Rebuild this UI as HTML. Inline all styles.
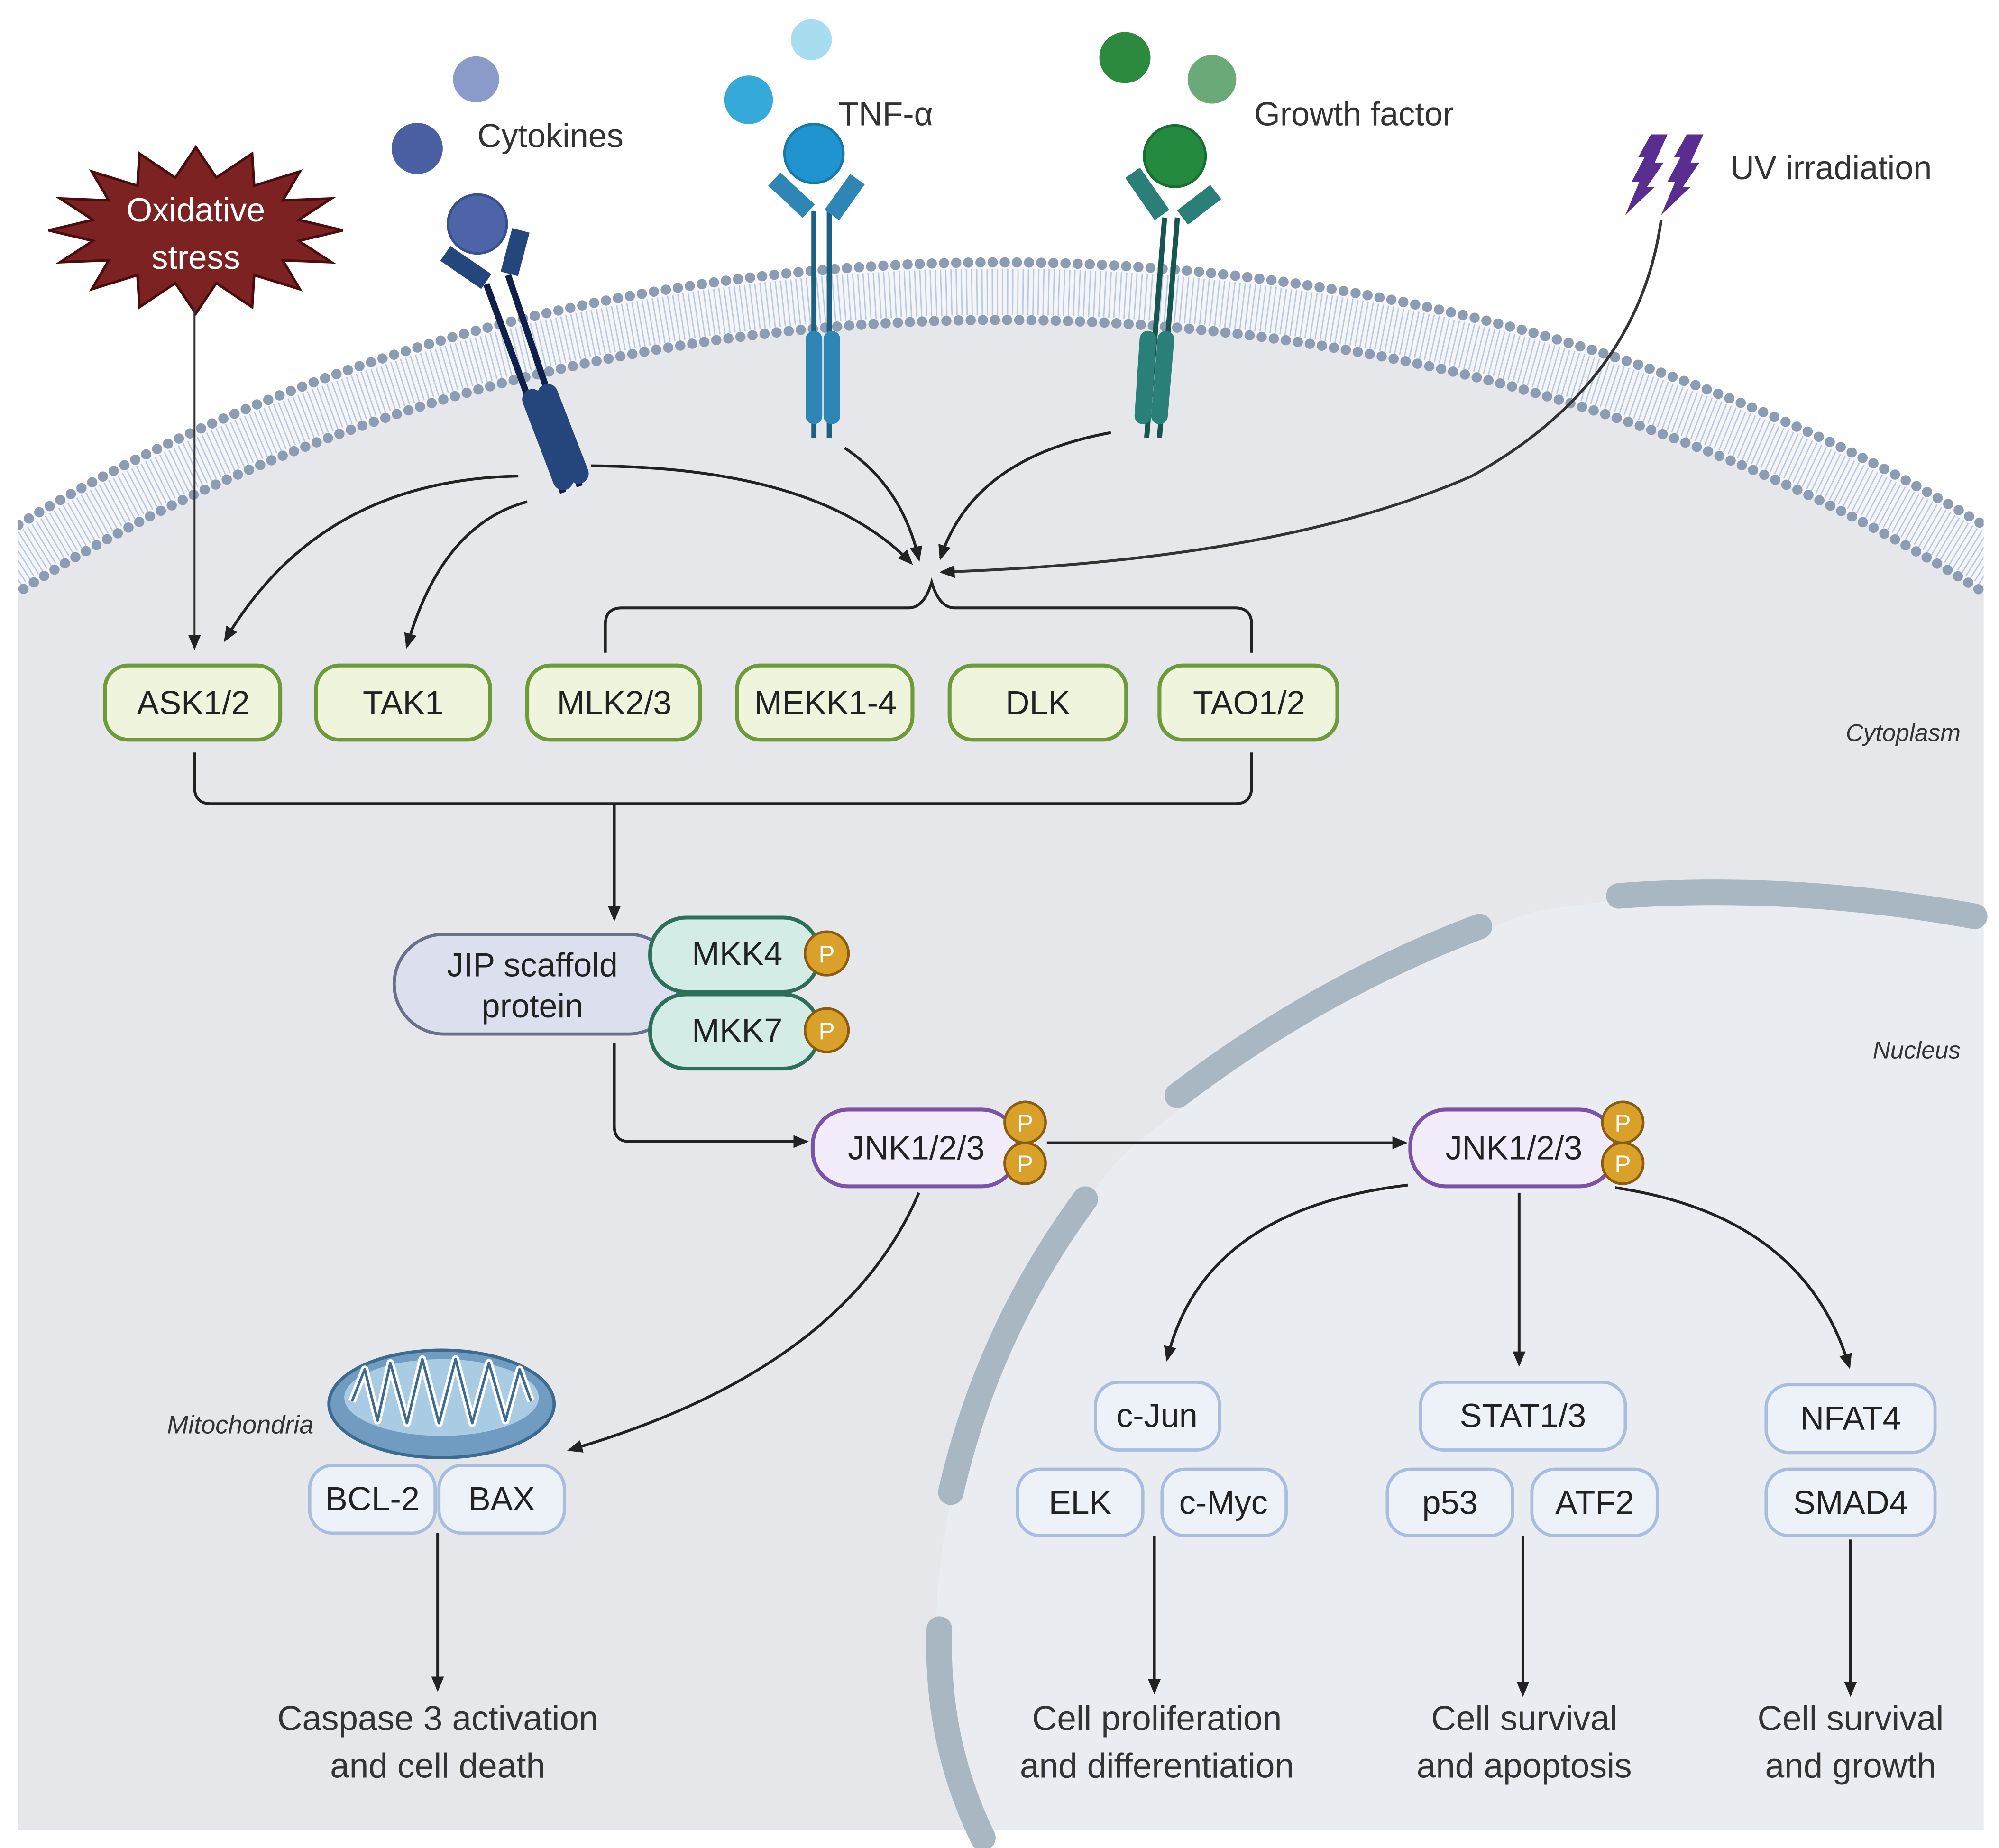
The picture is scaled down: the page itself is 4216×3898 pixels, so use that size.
<!DOCTYPE html>
<html><head><meta charset="utf-8"><style>
html,body{margin:0;padding:0;background:#fff;width:4216px;height:3898px;overflow:hidden}
svg{display:block}
text{font-family:"Liberation Sans",sans-serif}
</style></head><body>
<svg width="4216" height="3898" viewBox="0 0 1562 1444" preserveAspectRatio="none" xmlns="http://www.w3.org/2000/svg">
<defs>
<marker id="a2" viewBox="0 0 12 12" refX="10" refY="6" markerWidth="12" markerHeight="12" orient="auto" markerUnits="userSpaceOnUse"><path d="M0,1 L12,6 L0,11 z" fill="#222"/></marker>
<clipPath id="cell"><rect x="14" y="0" width="1536" height="1430"/></clipPath>
</defs>
<rect width="1562" height="1444" fill="#fff"/>
<g clip-path="url(#cell)">
<ellipse cx="782" cy="1100" rx="1205" ry="895" fill="#f3f5f9"/>
<ellipse cx="782" cy="1100" rx="1160" ry="850" fill="#e5e7ea"/>
<rect x="14" y="1100" width="1536" height="330" fill="#e5e7ea"/>
<ellipse cx="782" cy="1100" rx="1182" ry="872" fill="none" stroke="#b9c8dc" stroke-width="36" stroke-dasharray="1 3"/>
<ellipse cx="782" cy="1100" rx="1205" ry="895" fill="none" stroke="#8c9cb2" stroke-width="8" stroke-linecap="round" stroke-dasharray="0 9.5"/>
<ellipse cx="782" cy="1100" rx="1160" ry="850" fill="none" stroke="#8c9cb2" stroke-width="8" stroke-linecap="round" stroke-dasharray="0 9.5"/>
<path d="M768 1430 Q720 1330 735 1220 Q760 1030 880 900 Q1050 760 1200 712 Q1400 680 1550 715 L1550 1430 Z" fill="#e9ecf0"/>
</g>
<g fill="none" stroke="#a8b7c2" stroke-width="20" stroke-linecap="round">
<path d="M1265 700 Q1400 690 1543 716"/>
<path d="M920 856 Q1030 772 1156 724"/>
<path d="M848 937 Q772 1040 743 1166"/>
<path d="M734 1273 Q731 1360 768 1436"/>
</g>
<polygon points="268,180 233.4,188.2 259,204.9 221,203.4 234.3,226 198.6,214.9 197,240 169,221.2 153,245 137,221.2 109,240 107.4,214.9 71.7,226 85,203.4 47,204.9 72.6,188.2 38,180 72.6,171.8 47,155.1 85,156.6 71.7,134 107.4,145.1 109,120 137,138.8 153,115 169,138.8 197,120 198.6,145.1 234.3,134 221,156.6 259,155.1 233.4,171.8" fill="#7d2222" stroke="#4a0d0d" stroke-width="2"/>
<text x="153" y="173" font-size="26" fill="#fff" text-anchor="middle">Oxidative</text>
<text x="153" y="210" font-size="26" fill="#fff" text-anchor="middle">stress</text>
<line x1="152" y1="240" x2="152" y2="506" stroke="#333" stroke-width="1.5" marker-end="url(#a2)"/>
<circle cx="372" cy="62" r="18" fill="#8b9bc9"/><circle cx="326" cy="116" r="20" fill="#4b60a2"/>
<text x="373" y="115" font-size="26" fill="#333">Cytokines</text>
<g stroke-linecap="butt">
<line x1="380" y1="222" x2="440" y2="385" stroke="#10204a" stroke-width="5"/>
<line x1="397" y1="215" x2="453" y2="380" stroke="#10204a" stroke-width="5"/>
<line x1="416" y1="312" x2="440" y2="375" stroke="#25467c" stroke-width="16" stroke-linecap="round"/>
<line x1="428" y1="308" x2="452" y2="370" stroke="#25467c" stroke-width="16" stroke-linecap="round"/>
<line x1="348" y1="198" x2="380" y2="220" stroke="#25467c" stroke-width="14"/>
<line x1="407" y1="180" x2="398" y2="214" stroke="#25467c" stroke-width="14"/>
</g>
<circle cx="373" cy="175" r="23" fill="#4d64a8" stroke="#3a4f8d" stroke-width="2"/>
<circle cx="634" cy="31" r="16" fill="#a8dcef"/><circle cx="585" cy="78" r="19" fill="#35a9d9"/>
<text x="655" y="98" font-size="26" fill="#333">TNF-α</text>
<line x1="636" y1="165" x2="636" y2="342" stroke="#1c5f82" stroke-width="4"/>
<line x1="648" y1="165" x2="648" y2="342" stroke="#1c5f82" stroke-width="4"/>
<line x1="636" y1="265" x2="636" y2="325" stroke="#2d86b3" stroke-width="13" stroke-linecap="round"/>
<line x1="650" y1="265" x2="650" y2="325" stroke="#2d86b3" stroke-width="13" stroke-linecap="round"/>
<line x1="605" y1="140" x2="632" y2="165" stroke="#2d86b3" stroke-width="14"/>
<line x1="670" y1="140" x2="650" y2="168" stroke="#2d86b3" stroke-width="14"/>
<circle cx="636" cy="120" r="23" fill="#1f94cf" stroke="#1a78a8" stroke-width="2"/>
<circle cx="879" cy="45" r="20" fill="#2b8a3e"/><circle cx="947" cy="62" r="19" fill="#6aaa78"/>
<text x="980" y="98" font-size="26" fill="#333">Growth factor</text>
<line x1="910" y1="170" x2="896" y2="342" stroke="#17564f" stroke-width="4"/>
<line x1="920" y1="170" x2="906" y2="342" stroke="#17564f" stroke-width="4"/>
<line x1="897" y1="265" x2="893" y2="325" stroke="#2a8078" stroke-width="13" stroke-linecap="round"/>
<line x1="911" y1="265" x2="906" y2="325" stroke="#2a8078" stroke-width="13" stroke-linecap="round"/>
<line x1="885" y1="135" x2="908" y2="168" stroke="#2a8078" stroke-width="14"/>
<line x1="950" y1="150" x2="924" y2="170" stroke="#2a8078" stroke-width="14"/>
<circle cx="918" cy="122" r="24" fill="#238a40" stroke="#1a6c32" stroke-width="2"/>
<polygon points="1290,105 1303,105 1293,127 1300,127 1287,146 1293,146 1270,168 1281,142 1275,142 1285,123 1280,123" fill="#5a2d91"/>
<polygon points="1318,105 1331,105 1321,127 1328,127 1315,146 1321,146 1298,168 1309,142 1303,142 1313,123 1308,123" fill="#5a2d91"/>
<text x="1352" y="140" font-size="26" fill="#333">UV irradiation</text>
<g fill="none" stroke="#222" stroke-width="2.2">
<path d="M405 372 Q250 375 176 500" marker-end="url(#a2)"/>
<path d="M412 392 Q345 410 318 505" marker-end="url(#a2)"/>
<path d="M462 364 Q640 365 712 440" marker-end="url(#a2)"/>
<path d="M660 350 Q705 380 718 437" marker-end="url(#a2)"/>
<path d="M868 338 Q760 358 735 436" marker-end="url(#a2)"/>
<path d="M1298 172 Q1280 300 1150 372 Q1000 438 736 447" marker-end="url(#a2)" stroke="#333"/>
<path d="M473 510 L473 488 Q473 475 486 475 L710 475 Q722 475 728 455 Q734 475 746 475 L965 475 Q978 475 978 488 L978 510"/>
<path d="M152 588 L152 615 Q152 628 165 628 L965 628 Q978 628 978 615 L978 588"/>
<path d="M480 628 L480 718" marker-end="url(#a2)"/>
<path d="M480 815 L480 880 Q480 892 492 892 L630 892" marker-end="url(#a2)"/>
<path d="M818 893 L1098 893" marker-end="url(#a2)"/>
<path d="M718 932 Q660 1070 445 1133" marker-end="url(#a2)"/>
<path d="M1100 926 Q940 945 912 1062" marker-end="url(#a2)"/>
<path d="M1187 932 L1187 1066" marker-end="url(#a2)"/>
<path d="M1262 928 Q1410 950 1445 1068" marker-end="url(#a2)"/>
<path d="M342 1198 L342 1320" marker-end="url(#a2)"/>
<path d="M902 1200 L902 1322" marker-end="url(#a2)"/>
<path d="M1190 1200 L1190 1324" marker-end="url(#a2)"/>
<path d="M1446 1203 L1446 1324" marker-end="url(#a2)"/>
</g>
<g fill="#eef5dc" stroke="#6e9a3a" stroke-width="3">
<rect x="82" y="520" width="137" height="58" rx="18"/>
<rect x="247" y="520" width="136" height="58" rx="18"/>
<rect x="412" y="520" width="135" height="58" rx="18"/>
<rect x="576" y="520" width="137" height="58" rx="18"/>
<rect x="742" y="520" width="138" height="58" rx="18"/>
<rect x="906" y="520" width="139" height="58" rx="18"/>
</g>
<g font-size="26" fill="#222" text-anchor="middle">
<text x="151" y="558">ASK1/2</text><text x="315" y="558">TAK1</text><text x="480" y="558">MLK2/3</text>
<text x="645" y="558">MEKK1-4</text><text x="811" y="558">DLK</text><text x="976" y="558">TAO1/2</text>
</g>
<text x="1532" y="579" font-size="19" font-style="italic" fill="#333" text-anchor="end">Cytoplasm</text>
<text x="1532" y="827" font-size="19" font-style="italic" fill="#333" text-anchor="end">Nucleus</text>
<rect x="308" y="730" width="222" height="78" rx="39" fill="#dcdfee" stroke="#6a6f8a" stroke-width="2.5"/>
<text x="416" y="763" font-size="26" fill="#222" text-anchor="middle">JIP scaffold</text>
<text x="416" y="795" font-size="26" fill="#222" text-anchor="middle">protein</text>
<rect x="508" y="717" width="132" height="58" rx="28" fill="#d3ede6" stroke="#2e6f5a" stroke-width="3"/>
<rect x="508" y="777" width="132" height="58" rx="28" fill="#d3ede6" stroke="#2e6f5a" stroke-width="3"/>
<text x="576" y="754" font-size="26" fill="#222" text-anchor="middle">MKK4</text>
<text x="576" y="814" font-size="26" fill="#222" text-anchor="middle">MKK7</text>
<rect x="635" y="867" width="160" height="60" rx="28" fill="#f1ebfa" stroke="#7a52a8" stroke-width="3"/>
<rect x="1102" y="867" width="160" height="60" rx="28" fill="#f1ebfa" stroke="#7a52a8" stroke-width="3"/>
<text x="716" y="906" font-size="26" fill="#222" text-anchor="middle">JNK1/2/3</text>
<text x="1183" y="906" font-size="26" fill="#222" text-anchor="middle">JNK1/2/3</text>
<g fill="#d9a02a" stroke="#8a5c10" stroke-width="2">
<circle cx="646" cy="745" r="17"/><circle cx="646" cy="805" r="17"/>
<circle cx="801" cy="877" r="16"/><circle cx="801" cy="909" r="16"/>
<circle cx="1268" cy="877" r="16"/><circle cx="1268" cy="909" r="16"/>
</g>
<g font-size="19" fill="#fff" text-anchor="middle">
<text x="646" y="752">P</text><text x="646" y="812">P</text>
<text x="801" y="884">P</text><text x="801" y="916">P</text>
<text x="1268" y="884">P</text><text x="1268" y="916">P</text>
</g>
<ellipse cx="345" cy="1097" rx="88" ry="42" fill="#6f9cc0" stroke="#3d6a8f" stroke-width="2.5"/>
<ellipse cx="345" cy="1092" rx="76" ry="30" fill="#a9cbe3"/>
<path d="M275 1095 L285 1070 L295 1110 L305 1065 L318 1112 L330 1062 L343 1112 L356 1062 L369 1112 L382 1065 L395 1110 L406 1070 L415 1095" fill="none" stroke="#fff" stroke-width="6" stroke-linejoin="round"/>
<path d="M275 1095 L285 1070 L295 1110 L305 1065 L318 1112 L330 1062 L343 1112 L356 1062 L369 1112 L382 1065 L395 1110 L406 1070 L415 1095" fill="none" stroke="#3d6a8f" stroke-width="2" stroke-linejoin="round"/>
<text x="245" y="1120" font-size="20" font-style="italic" fill="#333" text-anchor="end">Mitochondria</text>
<g fill="#edf1f8" stroke="#a9bde0" stroke-width="2.5">
<rect x="242" y="1145" width="98" height="53" rx="18"/><rect x="343" y="1145" width="98" height="53" rx="18"/>
<rect x="856" y="1080" width="97" height="53" rx="18"/>
<rect x="795" y="1148" width="98" height="52" rx="18"/><rect x="908" y="1148" width="97" height="52" rx="18"/>
<rect x="1110" y="1080" width="160" height="53" rx="18"/>
<rect x="1084" y="1148" width="98" height="52" rx="18"/><rect x="1197" y="1148" width="98" height="52" rx="18"/>
<rect x="1380" y="1082" width="132" height="53" rx="18"/><rect x="1380" y="1148" width="132" height="52" rx="18"/>
</g>
<g font-size="26" fill="#222" text-anchor="middle">
<text x="291" y="1180">BCL-2</text><text x="392" y="1180">BAX</text>
<text x="904" y="1115">c-Jun</text>
<text x="844" y="1183">ELK</text><text x="956" y="1183">c-Myc</text>
<text x="1190" y="1115">STAT1/3</text>
<text x="1133" y="1183">p53</text><text x="1246" y="1183">ATF2</text>
<text x="1446" y="1117">NFAT4</text><text x="1446" y="1183">SMAD4</text>
</g>
<g font-size="27" fill="#333" text-anchor="middle">
<text x="342" y="1352">Caspase 3 activation</text><text x="342" y="1389">and cell death</text>
<text x="904" y="1352">Cell proliferation</text><text x="904" y="1389">and differentiation</text>
<text x="1191" y="1352">Cell survival</text><text x="1191" y="1389">and apoptosis</text>
<text x="1446" y="1352">Cell survival</text><text x="1446" y="1389">and growth</text>
</g>
</svg>
</body></html>
